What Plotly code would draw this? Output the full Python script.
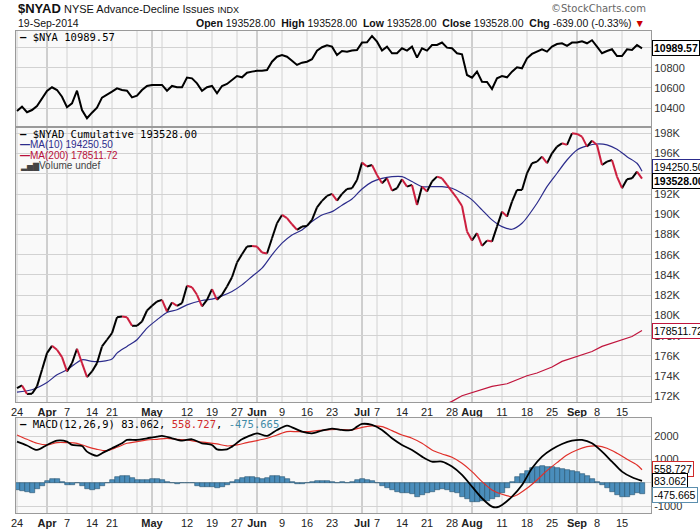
import pandas as pd
import plotly.graph_objects as go

# trading days shown on the chart (weekends and NYSE holidays left out)
holidays = ["2014-04-18", "2014-05-26", "2014-07-04", "2014-09-01"]
dates = [d.strftime("%Y-%m-%d") for d in pd.bdate_range("2014-03-24", "2014-09-19")]
dates = [d for d in dates if d not in holidays]

# $NYA close
nya = [10374, 10416, 10361, 10383, 10423, 10498, 10570,
       10607, 10580, 10514, 10410, 10449, 10573, 10383, 10302, 10357, 10406,
       10505, 10531, 10564, 10597, 10580, 10573, 10508, 10524, 10580, 10620,
       10630, 10630, 10630, 10573, 10620, 10607, 10607, 10702, 10695, 10646,
       10573, 10607, 10620, 10548, 10620, 10640, 10679, 10718, 10705, 10751,
       10761, 10770, 10770, 10777, 10859, 10908, 10925, 10908, 10869, 10827,
       10849, 10859, 10883, 10967, 11001, 11020, 11007, 10925, 10964, 10958,
       10968, 10974, 11047, 11050, 11112, 11056, 10968, 11007, 10942, 10942,
       10991, 10968, 11007, 10899, 10991, 10968, 11023, 11023, 11047, 10997,
       10991, 10942, 10932, 10728, 10702, 10761, 10662, 10659, 10590, 10695,
       10718, 10705, 10761, 10804, 10794, 10892, 10935, 10958, 10981, 10958,
       11007, 11033, 11040, 11014, 11047, 11047, 11060, 11040, 11070, 11007,
       10942, 10964, 10981, 10915, 10915, 10981, 10974, 11023, 10989.57]

# $NYAD cumulative, in thousands
nyad = [172.82, 173.09, 172.23, 172.26, 172.99, 174.63, 176.28, 177.00, 176.61,
        175.88, 174.47, 175.29, 176.71, 175.29, 173.91, 174.47, 175.29, 176.94,
        177.60, 178.25, 179.83, 179.90, 179.83, 178.98, 178.98, 179.40, 180.49,
        180.95, 181.38, 181.54, 180.39, 181.28, 180.95, 181.22, 182.93, 182.79,
        182.04, 180.89, 181.54, 182.60, 181.54, 182.04, 182.86, 183.78,
        185.23, 186.05, 186.81, 186.87, 186.81, 186.22, 186.12, 187.63, 189.11,
        189.93, 189.61, 189.01, 188.45, 188.78, 188.85, 189.44, 190.69, 191.32,
        191.81, 192.01, 191.35, 192.01, 192.50,
        192.57, 193.39, 195.10, 194.71, 194.87, 193.88, 193.06, 193.55, 192.34,
        192.57, 193.46, 192.73, 192.90, 190.92, 192.73, 192.24, 193.23, 193.72,
        193.55, 192.90, 192.24, 191.58, 190.82, 188.29, 187.40, 188.13, 186.87,
        187.40, 187.30, 188.78, 190.26, 189.77, 191.25, 192.40, 192.40, 194.05,
        195.04, 195.20, 195.69, 195.04, 196.02, 196.68, 197.01, 196.85, 198.00,
        197.93, 197.67, 196.68, 197.27, 196.85, 194.87, 195.20, 195.36, 193.72,
        192.57, 193.46, 193.55, 194.21, 193.528]

# MA(10), read at these trading-day positions
ma10_idx = [0, 3, 6, 8, 10, 13, 15, 17, 19, 20, 22, 24, 26, 28, 30, 32, 34, 37,
            39, 41, 43, 45, 47, 49, 51, 53, 55, 57, 59, 61, 63, 65, 67, 69, 71,
            73, 75, 77, 79, 81, 83, 85, 87, 89, 91, 93, 95, 97, 99, 101, 104,
            106, 108, 110, 112, 114, 116, 118, 120, 122, 124, 125]
ma10 = [172.43, 172.66, 173.38, 174.14, 174.63, 175.62, 175.46, 175.46, 175.69,
        176.28, 176.94, 177.60, 178.75, 179.57, 180.29, 180.56, 181.05, 181.48,
        181.61, 181.94, 182.37, 183.02, 183.85, 184.67, 185.99, 187.14, 187.96,
        188.45, 189.28, 189.93, 190.26, 190.90, 191.50, 192.50, 193.20, 193.55,
        193.72, 193.72, 193.23, 192.73, 192.73, 192.73, 192.57, 192.07, 191.42,
        190.43, 189.44, 188.78, 188.52, 189.11, 191.09, 192.73, 194.05, 195.36,
        196.35, 196.75, 196.94, 196.85, 196.42, 195.69, 195.04, 194.25]

# MA(200)
ma200_idx = [86, 87, 89, 91, 93, 95, 98, 100, 102, 104, 107, 109, 112, 115, 117,
             120, 123, 125]
ma200 = [171.30, 171.51, 172.07, 172.40, 172.66, 172.99, 173.25, 173.65, 174.04,
         174.31, 174.90, 175.46, 175.95, 176.44, 176.94, 177.43, 177.92, 178.51]

# MACD(12,26,9)
macd_idx = [0, 2, 4, 6, 8, 10, 11, 13, 14, 16, 17, 19, 21, 22, 24, 26, 28, 29,
            31, 33, 35, 37, 39, 40, 42, 43, 45, 47, 48, 50, 52, 54, 55, 57, 59,
            61, 63, 65, 67, 68, 69, 71, 73, 75, 77, 79, 81, 83, 85, 87, 89, 91,
            93, 95, 96, 97, 99, 101, 103, 105, 107, 109, 111, 113, 115, 117,
            119, 121, 123, 125]
macd = [1765, 1600, 1408, 1622, 1808, 1765, 1622, 1579, 1336, 1150, 1265, 1479,
        1694, 1837, 1837, 1909, 1980, 2009, 1909, 1808, 1866, 1694, 1622, 1436,
        1436, 1551, 1866, 2052, 2123, 2009, 2266, 2452, 2381, 2195, 2123, 2237,
        2323, 2266, 2266, 2409, 2524, 2481, 2266, 1909, 1622, 1408, 1122, 907,
        907, 692, 335, -166, -667, -1024, -1053, -953, -595, -94, 621, 1122,
        1436, 1665, 1808, 1837, 1694, 1336, 907, 478, 235, 83.062]

signal_idx = [0, 2, 4, 6, 8, 10, 12, 14, 16, 18, 20, 22, 24, 26, 28, 30, 32, 34,
              36, 38, 40, 42, 44, 46, 48, 50, 52, 54, 56, 58, 60, 62, 64, 67,
              69, 71, 73, 75, 77, 79, 81, 83, 85, 87, 89, 91, 93, 95, 97, 99,
              100, 102, 104, 106, 108, 110, 112, 114, 116, 118, 120, 122, 124,
              125]
signal = [2052, 1866, 1694, 1622, 1722, 1722, 1694, 1551, 1436, 1379, 1522, 1694,
          1765, 1837, 1866, 1909, 1866, 1837, 1765, 1722, 1665, 1579, 1622, 1722,
          1808, 1909, 2052, 2195, 2195, 2195, 2237, 2266, 2295, 2266, 2381, 2438,
          2409, 2237, 2052, 1909, 1694, 1408, 1236, 1093, 836, 478, 48, -309,
          -495, -595, -524, -237, 120, 521, 864, 1193, 1408, 1551, 1579, 1479,
          1265, 1007, 764, 558.727]

hist = [-309, -343, -386, -429, -286, -143, 86, 143, 157, 43, -100, -86, -29,
        -143, -286, -309, -258, -143, 0, 114, 229, 286, 286, 186, 114, 114, 114,
        143, 143, 114, 29, -29, -57, 0, 0, -29, -143, -200, -200, -200, -243,
        -172, -100, 43, 114, 186, 258, 258, 186, 143, 186, 286, 286, 258, 143,
        43, -57, -57, -29, 29, 57, 57, 57, 29, 0, 29, 0,
        43, 114, 143, 114, 86, -29, -143, -243, -309, -386, -429, -458, -486,
        -601, -529, -458, -386, -309, -286, -309, -386, -458, -601, -715, -815,
        -815, -786, -786, -715, -601, -429, -243, 43, 229, 372, 515, 615, 687,
        715, 687, 658, 615, 572, 544, 515, 472, 372, 286, 143, 43, -100, -243,
        -386, -529, -629, -601, -529, -458, -475.665]

# x axis labels: trading-day position -> text
tick_labels = {0: "24", 6: "<b>Apr</b>", 10: "7", 15: "14", 19: "21", 24: "",
               27: "<b>May</b>", 29: "", 34: "12", 39: "19", 44: "27",
               48: "<b>Jun</b>", 53: "9", 58: "16", 63: "23", 69: "<b>Jul</b>",
               72: "7", 77: "14", 82: "21", 87: "28", 91: "<b>Aug</b>", 97: "11",
               102: "18", 107: "25", 112: "<b>Sep</b>", 116: "8", 121: "15"}
month_starts = [6, 27, 48, 69, 91, 112]

FONT = "Liberation Sans, Arial, sans-serif"
MONO = "DejaVu Sans Mono, monospace"
GRID = "#d2d2d2"
AXIS = "#9a9a9a"
RED = "#cc1f3f"
NAVY = "#2c2c8c"


def px(x):
    return (x - 16) / 635


def py(y):
    return (513 - y) / 482


fig = go.Figure()

fig.add_trace(go.Scatter(x=dates, y=nya, mode="lines", xaxis="x", yaxis="y",
                         line=dict(color="black", width=2)))

# A/D line: black on up days, red on down days
up_x, up_y, dn_x, dn_y = [], [], [], []
for k in range(1, len(nyad)):
    if nyad[k] >= nyad[k - 1]:
        up_x += [dates[k - 1], dates[k], None]
        up_y += [nyad[k - 1], nyad[k], None]
    else:
        dn_x += [dates[k - 1], dates[k], None]
        dn_y += [nyad[k - 1], nyad[k], None]

fig.add_trace(go.Scatter(x=[dates[i] for i in ma200_idx], y=ma200, mode="lines",
                         xaxis="x2", yaxis="y2", line=dict(color="#c0143c", width=1.2)))
fig.add_trace(go.Scatter(x=[dates[i] for i in ma10_idx], y=ma10, mode="lines",
                         xaxis="x2", yaxis="y2",
                         line=dict(color=NAVY, width=1.2, shape="spline", smoothing=0.8)))
fig.add_trace(go.Scatter(x=up_x, y=up_y, mode="lines", xaxis="x2", yaxis="y2",
                         line=dict(color="black", width=2)))
fig.add_trace(go.Scatter(x=dn_x, y=dn_y, mode="lines", xaxis="x2", yaxis="y2",
                         line=dict(color=RED, width=2)))

fig.add_trace(go.Bar(x=dates, y=hist, xaxis="x3", yaxis="y3", width=1,
                     marker=dict(color="#4a8dbb", line=dict(color="#23506f", width=0.6))))
fig.add_trace(go.Scatter(x=[dates[i] for i in signal_idx], y=signal, mode="lines",
                         xaxis="x3", yaxis="y3",
                         line=dict(color="#e0302a", width=1.2, shape="spline", smoothing=0.8)))
fig.add_trace(go.Scatter(x=[dates[i] for i in macd_idx], y=macd, mode="lines",
                         xaxis="x3", yaxis="y3",
                         line=dict(color="black", width=1.8, shape="spline", smoothing=0.8)))

tick_pos = sorted(tick_labels)
xcommon = dict(type="category", categoryorder="array", categoryarray=dates,
               range=[-0.2, 126.8], domain=[0, 1], automargin=False,
               tickvals=[dates[i] for i in tick_pos],
               ticktext=[tick_labels[i] for i in tick_pos],
               showgrid=False, zeroline=False,
               showline=True, mirror=True, linecolor=AXIS, ticks="",
               tickfont=dict(family=FONT, size=11, color="#222"))
ycommon = dict(side="right", showgrid=True, gridcolor=GRID, zeroline=False,
               automargin=False,
               showline=True, mirror=True, linecolor=AXIS, ticks="",
               tickfont=dict(family=FONT, size=11, color="#333"))

fig.update_layout(
    width=700, height=530, autosize=False,
    margin=dict(l=16, r=49, t=31, b=17),
    paper_bgcolor="white", plot_bgcolor="#f9f9f9",
    showlegend=False, bargap=0,
    xaxis=dict(xcommon, anchor="y", showticklabels=False),
    xaxis2=dict(xcommon, anchor="y2", matches="x"),
    xaxis3=dict(xcommon, anchor="y3", matches="x"),
    yaxis=dict(ycommon, domain=[py(127), 1], anchor="x", range=[10216, 11161],
               tickvals=[10400, 10600, 10800, 11000],
               ticktext=["10400", "10600", "10800", ""]),
    yaxis2=dict(ycommon, domain=[py(402), py(127)], anchor="x2", range=[171.45, 198.62],
                tickvals=list(range(172, 199, 2)),
                ticktext=[f"{v}K" for v in range(172, 199, 2)]),
    yaxis3=dict(ycommon, domain=[0, py(418)], anchor="x3", range=[-1300, 2780],
                tickvals=[-1000, 0, 1000, 2000],
                ticktext=["-1000", "", "1000", "2000"]),
)

# vertical grid: weekly lines, darker month separators
shapes = []
for xr, yr in [("x", "y"), ("x2", "y2"), ("x3", "y3")]:
    for p in tick_pos:
        dark = p in month_starts
        shapes.append(dict(type="line", xref=xr, yref=yr + " domain", x0=p, x1=p,
                           y0=0, y1=1, layer="below",
                           line=dict(color="#a4a4a4" if dark else GRID, width=1)))
fig.update_layout(shapes=shapes)

ann = []


def text(x, y, s, size=11, family=FONT, color="#111", xanchor="left", **kw):
    ann.append(dict(xref="paper", yref="paper", x=px(x), y=py(y), text=s,
                    showarrow=False, xanchor=xanchor, yanchor="middle",
                    font=dict(family=family, size=size, color=color), **kw))


text(16, 9, "<b><span style='font-size:13px'>$NYAD</span></b> NYSE Advance-Decline Issues"
     " <span style='font-size:9px'>INDX</span>", size=11)
text(16, 23, "19-Sep-2014", size=10.5)
text(648, 9, "\u00a9StockCharts.com", size=10, family="DejaVu Sans, sans-serif",
     color="#666", xanchor="right")
text(647, 23, "<b>Open</b> 193528.00  <b>High</b> 193528.00  <b>Low</b> 193528.00  "
     "<b>Close</b> 193528.00  <b>Chg</b> -639.00 (-0.33%) "
     "<span style='color:#cc0000'>\u25bc</span>", size=10.5, xanchor="right")

text(18, 37, "<b>\u2014</b> $NYA 10989.57", size=10.5, family=MONO, color="#000")
text(18, 133.5, "<b>\u2014</b> $NYAD Cumulative 193528.00", size=10.5, family=MONO,
     color="#000")
text(18, 144, "<b>\u2014</b>MA(10) 194250.50", size=10, color=NAVY)
text(18, 155, "<b>\u2014</b>MA(200) 178511.72", size=10, color="#b8103a")
text(18, 165.5, "<span style='font-size:8px'>\u2582\u2585\u2587</span>Volume undef",
     size=10, color="#444")
text(18, 424, "<b>\u2014</b> MACD(12,26,9) 83.062, <span style='color:#d02a2a'>558.727</span>, "
     "<span style='color:#3f8aa6'>-475.665</span>", size=10.5, family=MONO, color="#000")


def box(yref, y, s, border, bold=False, yshift=0, color="#000"):
    ann.append(dict(xref="paper", yref=yref, x=1, y=y, xanchor="left", yanchor="middle",
                    xshift=1, yshift=yshift, showarrow=False,
                    text=f"<b>{s}</b>" if bold else s,
                    font=dict(family=FONT, size=10.5, color=color),
                    bgcolor="white", bordercolor=border, borderwidth=1, borderpad=1))


box("y", nya[-1], "10989.57", "#000", bold=True)
box("y2", 194.2505, "194250.50", NAVY, yshift=4)
box("y2", nyad[-1], "193528.00", "#000", bold=True, yshift=-2)
box("y2", 178.51172, "178511.72", "#c0143c")
box("y3", signal[-1], "558.727", "#d02a2a", yshift=1)
box("y3", macd[-1], "83.062", "#000")
box("y3", hist[-1], "-475.665", "#5b8fae", yshift=-1)

fig.update_layout(annotations=ann)

# the page's default body margin would shift the chart by 8px
fig.write_html("out.html",
               config={"displayModeBar": False, "responsive": False},
               post_script="document.body.style.margin='0';"
                           "document.body.style.overflow='hidden';")
